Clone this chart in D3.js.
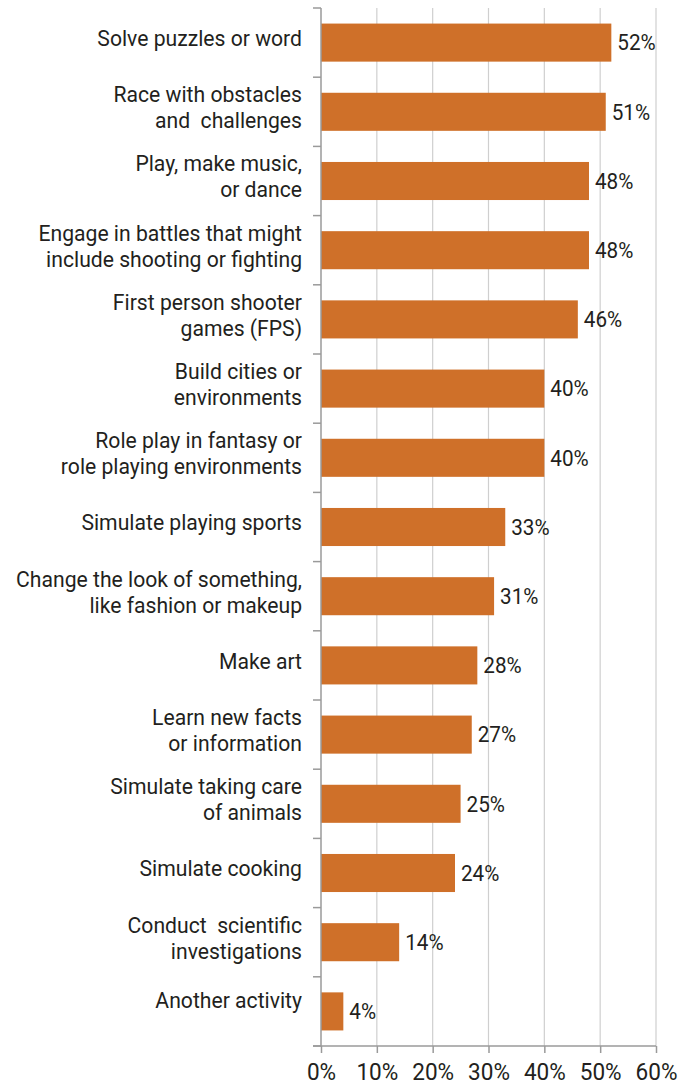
<!DOCTYPE html>
<html>
<head>
<meta charset="utf-8">
<script src="https://cdn.jsdelivr.net/npm/d3@7"></script>
<style>
  html, body { margin: 0; padding: 0; background: #fff; }
  svg { display: block; }
  text { font-family: Roboto, "Liberation Sans", sans-serif; fill: #231f20; white-space: pre; }
</style>
</head>
<body>
<svg id="chart" width="694" height="1087"></svg>
<script>
// Activities (two-line labels split on "\n")
const categories = [
  "Solve puzzles or word",
  "Race with obstacles\nand  challenges",
  "Play, make music,\nor dance",
  "Engage in battles that might\ninclude shooting or fighting",
  "First person shooter\ngames (FPS)",
  "Build cities or\nenvironments",
  "Role play in fantasy or\nrole playing environments",
  "Simulate playing sports",
  "Change the look of something,\nlike fashion or makeup",
  "Make art",
  "Learn new facts\nor information",
  "Simulate taking care\nof animals",
  "Simulate cooking",
  "Conduct  scientific\ninvestigations",
  "Another activity"
];
// Share of respondents, percent
const values = [52, 51, 48, 48, 46, 40, 40, 33, 31, 28, 27, 25, 24, 14, 4];
const tickValues = [0, 10, 20, 30, 40, 50, 60];
const tickLabels = ["0%", "10%", "20%", "30%", "40%", "50%", "60%"];

const svg = d3.select("#chart");
const plotLeft = 321, plotRight = 656, plotTop = 8, plotBottom = 1046;
const condense = 0.94; // narrow the sans face a little

const x = d3.scaleLinear().domain([0, 60]).range([plotLeft, plotRight]);
const y = d3.scaleBand().domain(categories).range([plotTop, plotBottom])
  .paddingInner(0.45).paddingOuter(0.225);

// vertical gridlines
svg.append("g").selectAll("line").data(tickValues.slice(1)).join("line")
  .attr("x1", d => x(d)).attr("x2", d => x(d))
  .attr("y1", plotTop).attr("y2", plotBottom)
  .attr("stroke", "#cfcfcf").attr("stroke-width", 1.2);

// bars
svg.append("g").selectAll("rect").data(values).join("rect")
  .attr("x", x(0))
  .attr("y", (d, i) => y(categories[i]))
  .attr("width", d => x(d) - x(0))
  .attr("height", y.bandwidth())
  .attr("fill", "#cf7029");

// value labels
svg.append("g").selectAll("text").data(values).join("text")
  .attr("transform", (d, i) =>
    `translate(${x(d) + 6},${y(categories[i]) + y.bandwidth() / 2}) scale(${condense},1)`)
  .attr("dy", "0.35em")
  .attr("font-size", 22)
  .text(d => d + "%");

// left axis line and category boundary ticks
const axisColor = "#9a9a9a";
svg.append("line")
  .attr("x1", x(0)).attr("x2", x(0)).attr("y1", plotTop).attr("y2", plotBottom)
  .attr("stroke", axisColor).attr("stroke-width", 1.5);
const boundaries = d3.range(categories.length + 1).map(i => plotTop + i * y.step());
svg.append("g").selectAll("line").data(boundaries).join("line")
  .attr("x1", x(0) - 8).attr("x2", x(0))
  .attr("y1", d => d).attr("y2", d => d)
  .attr("stroke", axisColor).attr("stroke-width", 1.5);

// bottom axis
const xAxis = d3.axisBottom(x).tickValues(tickValues)
  .tickFormat((d, i) => tickLabels[i]).tickSize(7).tickPadding(10);
const gx = svg.append("g").attr("transform", `translate(0,${plotBottom})`).call(xAxis);
gx.select(".domain").remove();
gx.selectAll(".tick line").attr("stroke", axisColor).attr("stroke-width", 1.5);
gx.selectAll(".tick text").attr("font-size", 24)
  .attr("font-family", "Roboto, 'Liberation Sans', sans-serif")
  .attr("fill", "#231f20")
  .attr("transform", `scale(${condense},1)`);
svg.append("line")
  .attr("x1", x(0) - 8).attr("x2", x(60)).attr("y1", plotBottom).attr("y2", plotBottom)
  .attr("stroke", axisColor).attr("stroke-width", 1.5);

// category labels, right aligned, sitting slightly above the bar centre
const lineH = 26;
const labelLift = 4.5;
const lastLabelLift = 11;
svg.append("g").selectAll("text").data(categories).join("text")
  .attr("text-anchor", "end")
  .attr("font-size", 22.5)
  .attr("transform", (d, i) => {
    const lift = i === categories.length - 1 ? lastLabelLift : labelLift;
    return `translate(302,${y(d) + y.bandwidth() / 2 - lift}) scale(${condense},1)`;
  })
  .each(function (d) {
    const lines = d.split("\n");
    const t = d3.select(this);
    lines.forEach((ln, j) => {
      t.append("tspan")
        .attr("x", 0)
        .attr("y", (j - (lines.length - 1) / 2) * lineH)
        .attr("dy", "0.35em")
        .text(ln);
    });
  });
</script>
</body>
</html>
